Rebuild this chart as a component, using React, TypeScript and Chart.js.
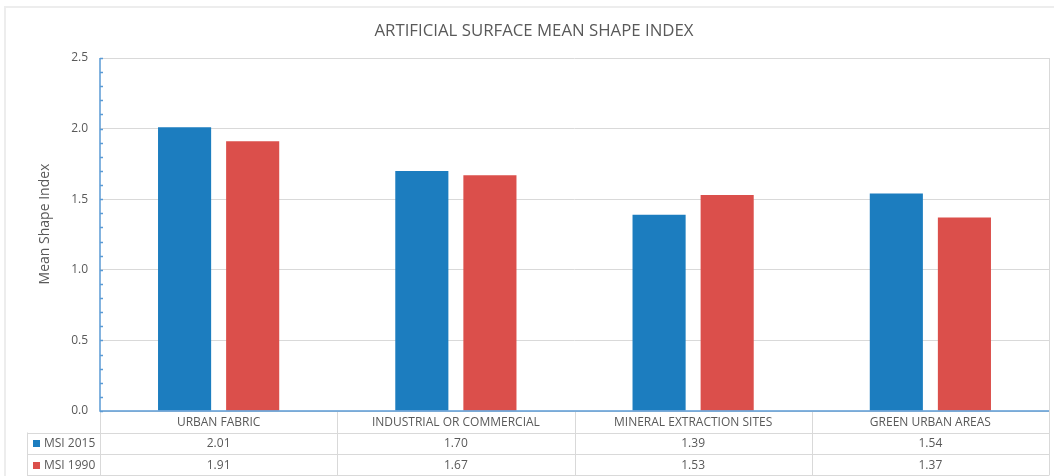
import React, { useEffect, useRef } from "react";
import { Chart, registerables } from "chart.js";
Chart.register(...registerables);

const categories = [
  "URBAN FABRIC",
  "INDUSTRIAL OR COMMERCIAL",
  "MINERAL EXTRACTION SITES",
  "GREEN URBAN AREAS",
];
const msi2015 = [2.01, 1.7, 1.39, 1.54];
const msi1990 = [1.91, 1.67, 1.53, 1.37];
const seriesLabels = ["MSI 2015", "MSI 1990"];
const seriesColors = ["#1c7dbf", "#db4f4b"];
const chartTitle = "ARTIFICIAL SURFACE MEAN SHAPE INDEX";
const yTitle = "Mean Shape Index";
const yMin = 0;
const yMax = 2.5;
const yStep = 0.5;
const yMinorStep = 0.1;

const FONT = "'Open Sans', 'DejaVu Sans', sans-serif";
const TEXT = "#595959";
const GRID = "#d9d9d9";
const AXIS = "#5b9bd5";

const tablePlugin = {
  id: "dataTable",
  afterDraw(chart: any) {
    const ctx = chart.ctx as CanvasRenderingContext2D;
    const xs = chart.scales.x;
    const ys = chart.scales.y;
    const ca = chart.chartArea;
    const n = categories.length;
    const cw = (ca.right - ca.left) / n;
    const rowH = 21.5;
    const r0 = ca.bottom;
    const r1 = r0 + rowH;
    const r2 = r1 + rowH;
    const r3 = r2 + rowH;
    const legendLeft = 27;
    ctx.save();

    // outer frame
    ctx.strokeStyle = "#ededed";
    ctx.lineWidth = 2;
    ctx.strokeRect(5, 7, 1100, 600);

    // title
    ctx.fillStyle = TEXT;
    ctx.font = `16.8px ${FONT}`;
    ctx.textAlign = "center";
    ctx.textBaseline = "middle";
    ctx.fillText(chartTitle, 534, 31);

    // y title
    ctx.save();
    ctx.translate(45, 224);
    ctx.rotate(-Math.PI / 2);
    ctx.font = `14px ${FONT}`;
    ctx.fillText(yTitle, 0, 0);
    ctx.restore();

    // gray table lines
    ctx.strokeStyle = GRID;
    ctx.lineWidth = 1;
    ctx.beginPath();
    ctx.moveTo(Math.round(ca.right) + 0.5, ca.top);
    ctx.lineTo(Math.round(ca.right) + 0.5, r3);
    for (const y of [r1, r2, r3 - 0.5]) {
      ctx.moveTo(legendLeft, Math.round(y) + 0.5);
      ctx.lineTo(ca.right, Math.round(y) + 0.5);
    }
    ctx.moveTo(legendLeft + 0.5, r1);
    ctx.lineTo(legendLeft + 0.5, r3);
    for (let i = 0; i < n; i++) {
      const x = Math.round(xs.getPixelForValue(i) - cw / 2) + 0.5;
      ctx.moveTo(x, r0);
      ctx.lineTo(x, r3);
    }
    ctx.stroke();

    // blue axes
    ctx.strokeStyle = AXIS;
    ctx.lineWidth = 1.5;
    ctx.beginPath();
    ctx.moveTo(ca.left, ca.top);
    ctx.lineTo(ca.left, ca.bottom);
    ctx.lineTo(ca.right, ca.bottom);
    for (let v = yMin; v <= yMax + 1e-9; v += yMinorStep) {
      const y = Math.round(ys.getPixelForValue(v)) + 0.5;
      ctx.moveTo(ca.left, y);
      ctx.lineTo(ca.left + 3, y);
    }
    ctx.stroke();

    // table text
    ctx.fillStyle = TEXT;
    ctx.font = `12px ${FONT}`;
    ctx.textAlign = "center";
    ctx.textBaseline = "middle";
    const series = [msi2015, msi1990];
    for (let i = 0; i < n; i++) {
      const cx = xs.getPixelForValue(i);
      ctx.fillText(categories[i], cx, (r0 + r1) / 2 + 0.5);
      ctx.fillText(series[0][i].toFixed(2), cx, (r1 + r2) / 2 + 0.5);
      ctx.fillText(series[1][i].toFixed(2), cx, (r2 + r3) / 2 + 0.5);
    }
    ctx.textAlign = "left";
    const rowsMid = [(r1 + r2) / 2, (r2 + r3) / 2];
    for (let s = 0; s < 2; s++) {
      ctx.fillStyle = seriesColors[s];
      ctx.fillRect(33, Math.round(rowsMid[s]) - 3, 7, 7);
      ctx.fillStyle = TEXT;
      ctx.fillText(seriesLabels[s], 44, rowsMid[s] + 0.5);
    }
    ctx.restore();
  },
};

export default function App() {
  const ref = useRef<HTMLCanvasElement | null>(null);
  useEffect(() => {
    document.body.style.margin = "0";
    const canvas = ref.current!;
    const chart = new Chart(canvas, {
      type: "bar",
      data: {
        labels: categories,
        datasets: [
          {
            label: seriesLabels[0],
            data: msi2015,
            backgroundColor: seriesColors[0],
            categoryPercentage: 0.574,
            barPercentage: 0.78,
          },
          {
            label: seriesLabels[1],
            data: msi1990,
            backgroundColor: seriesColors[1],
            categoryPercentage: 0.574,
            barPercentage: 0.78,
          },
        ],
      },
      options: {
        responsive: false,
        animation: false,
        layout: { padding: { top: 58, left: 5, right: 5, bottom: 0 } },
        plugins: {
          legend: { display: false },
          title: { display: false },
          tooltip: { enabled: false },
        },
        scales: {
          x: {
            ticks: { display: false },
            grid: { display: false },
            border: { display: false },
            afterFit: (s: any) => {
              s.height = 65;
            },
          },
          y: {
            min: yMin,
            max: yMax,
            ticks: {
              stepSize: yStep,
              padding: 12,
              color: TEXT,
              font: { family: FONT, size: 12 },
              callback: (v: any) => Number(v).toFixed(1),
            },
            grid: { color: GRID, drawTicks: false },
            border: { display: false },
            afterFit: (s: any) => {
              s.width = 95;
            },
          },
        },
      },
      plugins: [tablePlugin],
    });
    return () => chart.destroy();
  }, []);
  return (
    <canvas
      ref={ref}
      width={1054}
      height={476}
      style={{ display: "block", width: 1054, height: 476 }}
    />
  );
}
